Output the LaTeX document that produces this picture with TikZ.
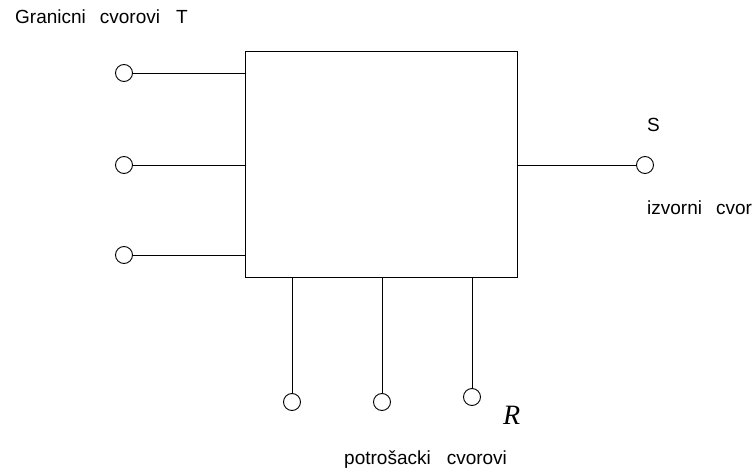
\documentclass[tikz,border=0pt]{standalone}
\usepackage{fontspec}
\setmainfont{Liberation Sans}
\newfontfamily\timesfont{Liberation Serif}
\begin{document}
\begin{tikzpicture}[x=1pt,y=-1pt,
  term/.style={circle,draw,line width=0.9pt,minimum size=17pt,inner sep=0pt},
  wire/.style={line width=0.9pt},
  lbl/.style={anchor=base west,inner sep=0pt,font=\fontsize{19}{22}\selectfont}]
\useasboundingbox (0,0) rectangle (756,470);
\node[draw,line width=0.9pt,minimum width=272pt,minimum height=226pt,inner sep=0pt] (box) at (381,164) {};
\node[term] (t1) at (124,73) {};
\node[term] (t2) at (124,165) {};
\node[term] (t3) at (124,255) {};
\node[term] (s) at (645,165) {};
\node[term] (r1) at (292,402) {};
\node[term] (r2) at (382,402) {};
\node[term] (r3) at (472,397) {};
\draw[wire] (t1) -- (t1 -| box.west);
\draw[wire] (t2) -- (t2 -| box.west);
\draw[wire] (t3) -- (t3 -| box.west);
\draw[wire] (s) -- (s -| box.east);
\draw[wire] (r1) -- (r1 |- box.south);
\draw[wire] (r2) -- (r2 |- box.south);
\draw[wire] (r3) -- (r3 |- box.south);
\node[lbl] (tl) at (15,24) {Granicni\hspace{14pt}cvorovi\hspace{16pt}T};
\node[lbl] (sl) at (647,132) {S};
\node[lbl] (il) at (647,215) {izvorni\hspace{14pt}cvor};
\node[anchor=base west,inner sep=0pt,font=\timesfont\itshape\fontsize{28}{32}\selectfont] (rl) at (503,425) {R};
\node[lbl] (pl) at (344,465) {potrošacki\hspace{16pt}cvorovi};
\end{tikzpicture}
\end{document}
